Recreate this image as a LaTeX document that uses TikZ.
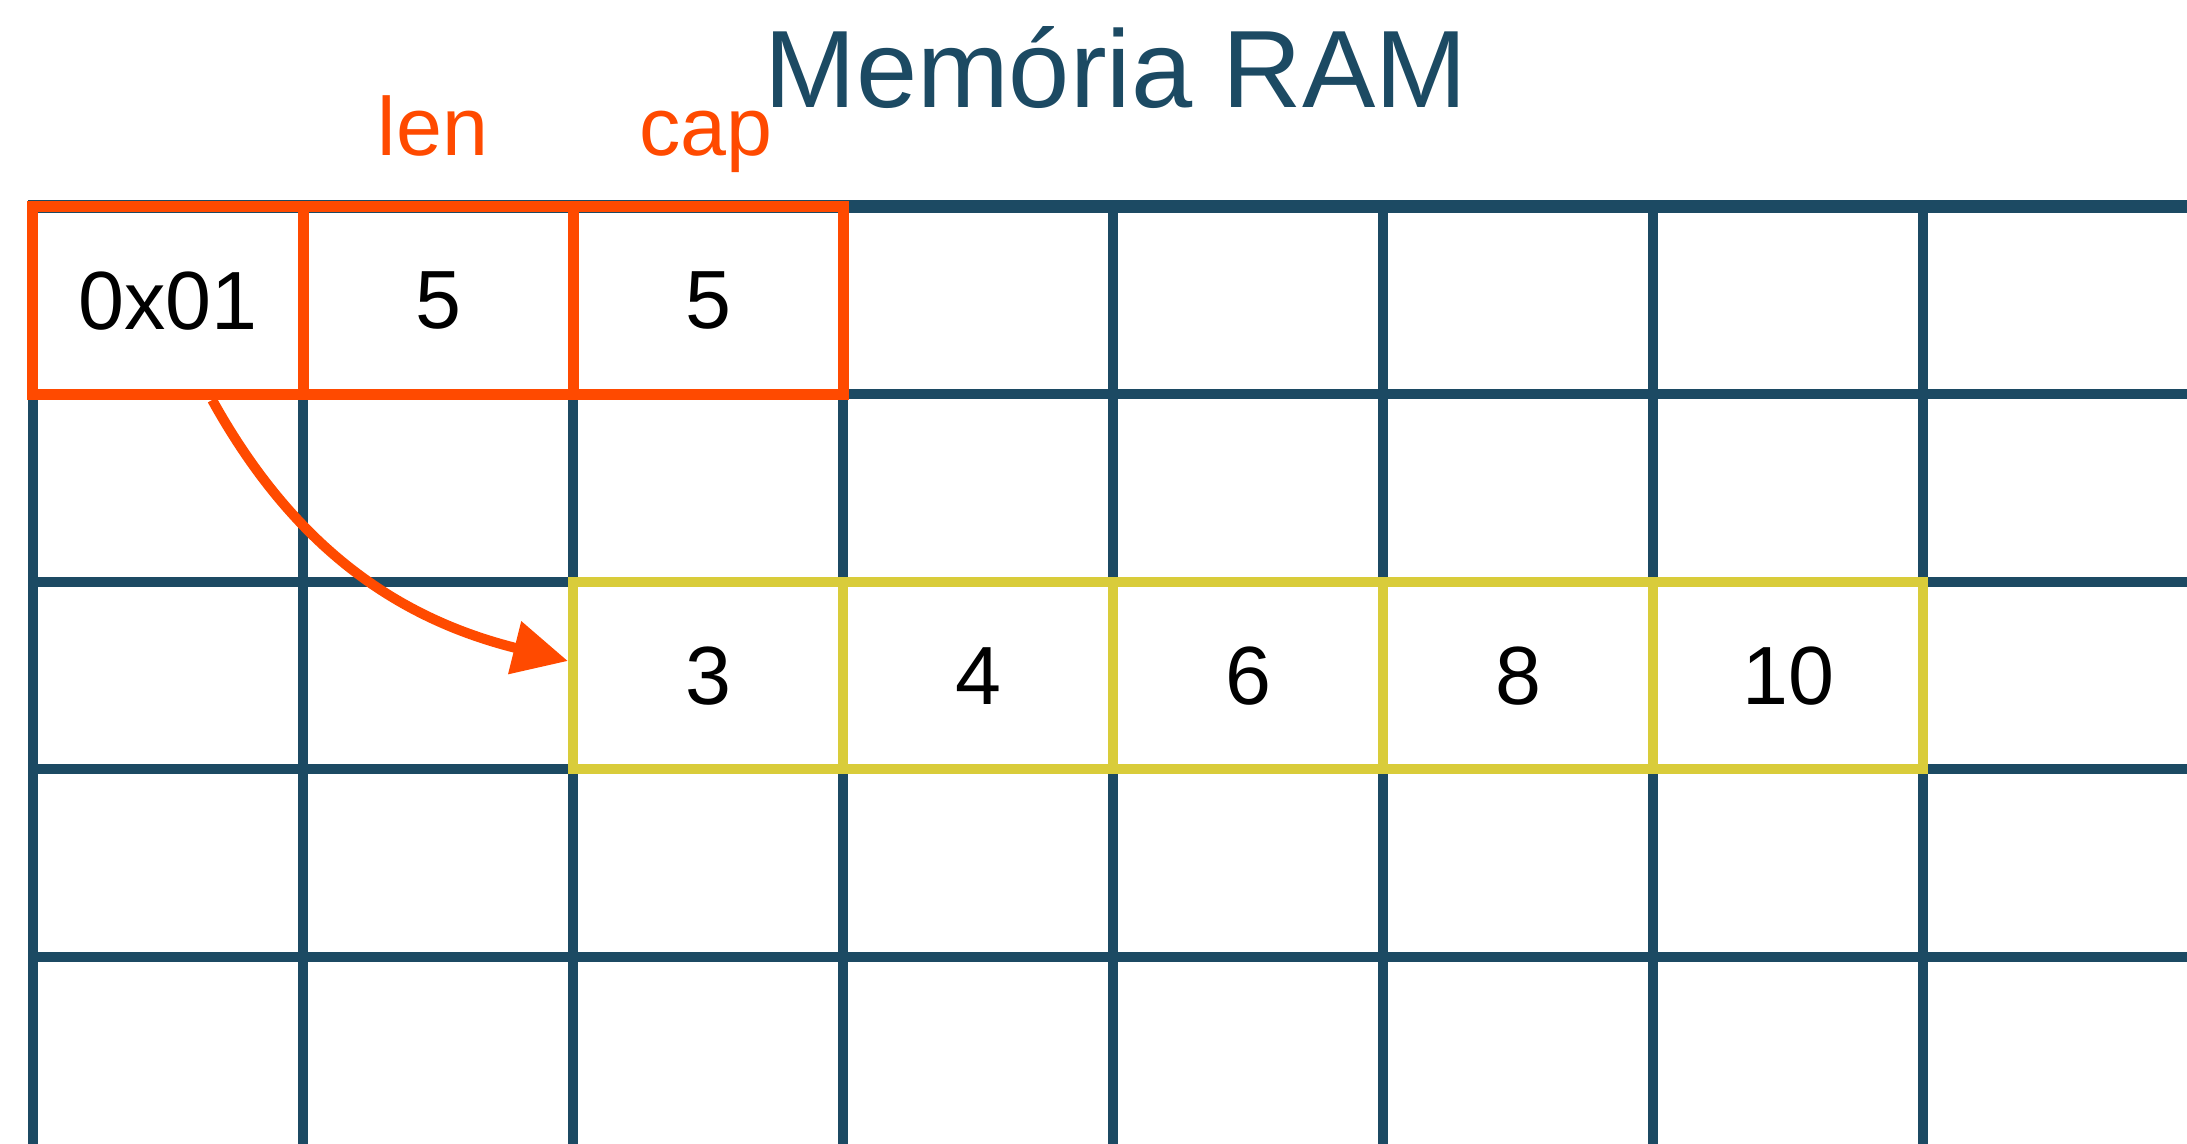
\documentclass[tikz,border=0pt]{standalone}
\usepackage{fontspec}
\setmainfont{Liberation Sans}
\usetikzlibrary{arrows.meta}
\definecolor{ramblue}{RGB}{28,74,99}
\definecolor{slicered}{RGB}{255,74,0}
\definecolor{arryellow}{RGB}{217,204,58}
\tikzset{
  cell/.style={minimum width=2.7cm, minimum height=1.875cm, inner sep=0pt, font=\fontsize{23.5}{28}\selectfont},
  hdrcell/.style={cell, draw=slicered, line width=0.11cm},
  arrcell/.style={cell, draw=arryellow, line width=0.1cm},
  lbl/.style={anchor=base, font=\fontsize{23.5}{28}\selectfont}
}
\begin{document}
\begin{tikzpicture}
        \useasboundingbox (0,0) rectangle (21.87,11.44);

        % RAM grid
        \foreach \x in {0,...,7} {
          \draw[ramblue, line width=0.095cm] (0.33+\x*2.7,9.435) -- (0.33+\x*2.7,0);
        }
        \draw[ramblue, line width=0.13cm] (0.28,9.37) -- (21.87,9.37);
        \foreach \j in {1,...,4} {
          \draw[ramblue, line width=0.1cm] (0.28,9.37-\j*1.875) -- (21.87,9.37-\j*1.875);
        }
        \node[ramblue, anchor=base, font=\fontsize{31.3}{36}\selectfont] (title) at (11.16,10.36) {Memória RAM};

        % Slice header
        \node[hdrcell] (ptr) at (1.68,8.4325) {0x01};
        \node[hdrcell] (lenval) at (4.38,8.4325) {5};
        \node[hdrcell] (capval) at (7.08,8.4325) {5};
        \node[lbl, slicered] (lenlbl) at (4.33,9.88) {len};
        \node[lbl, slicered] (caplbl) at (7.06,9.88) {cap};

        % Backing array
        \foreach \v [count=\i from 0] in {3,4,6,8,10} {
          \node[arrcell] (a\i) at (7.08+\i*2.7,4.6825) {\v};
        }

        % Pointer
        \draw[slicered, line width=0.1cm, -{Triangle[length=0.55cm,width=0.52cm]}] (ptr.-66) to[out=-61,in=166] (a0.174);
      \end{tikzpicture}
\end{document}
